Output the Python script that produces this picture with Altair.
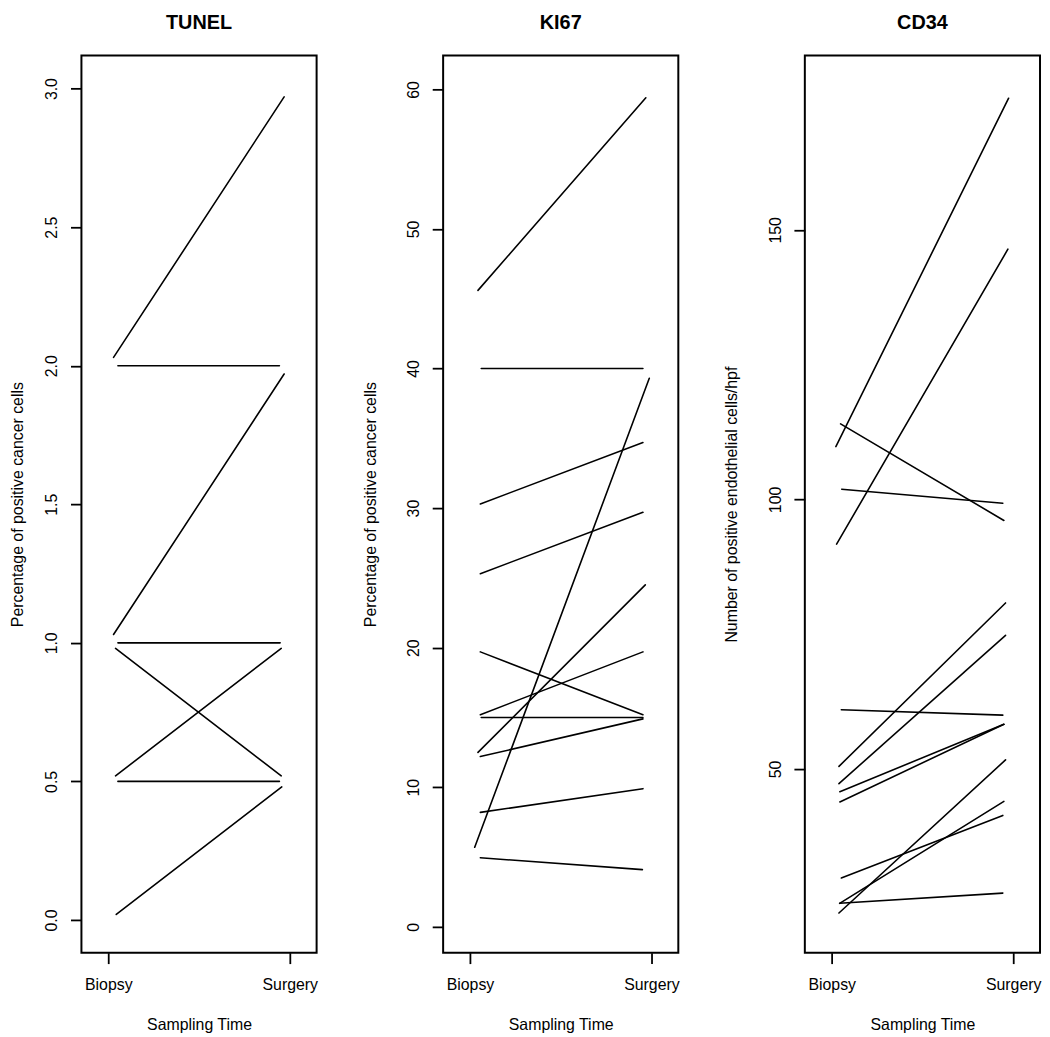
import altair as alt
import pandas as pd

# ---------------- data ----------------
time_labels = ["Biopsy", "Surgery"]
panel_titles = ["TUNEL", "KI67", "CD34"]
y_titles = [
    "Percentage of positive cancer cells",
    "Percentage of positive cancer cells",
    "Number of positive endothelial cells/hpf",
]
x_title = "Sampling Time"

# TUNEL
tunel_biopsy = [2.03, 2.00, 1.03, 1.00, 0.98, 0.52, 0.50, 0.02]
tunel_surgery = [2.97, 2.00, 1.97, 1.00, 0.52, 0.98, 0.50, 0.48]
tunel_xb = [1.029, 1.053, 1.029, 1.053, 1.040, 1.040, 1.053, 1.044]
tunel_xs = [1.969, 1.943, 1.969, 1.947, 1.953, 1.953, 1.943, 1.956]
tunel_ticks = [0.0, 0.5, 1.0, 1.5, 2.0, 2.5, 3.0]

# KI67
ki67_biopsy = [45.6, 40.0, 30.3, 5.7, 25.3, 19.7, 15.2, 15.0, 12.5, 12.2, 8.2, 4.95]
ki67_surgery = [59.4, 40.0, 34.7, 39.3, 29.7, 15.2, 19.7, 15.0, 24.5, 14.9, 9.9, 4.1]
ki67_xb = [1.044, 1.062, 1.057, 1.026, 1.057, 1.057, 1.057, 1.062, 1.044, 1.057, 1.057, 1.057]
ki67_xs = [1.969, 1.953, 1.953, 1.988, 1.953, 1.953, 1.953, 1.953, 1.966, 1.953, 1.953, 1.950]
ki67_ticks = [0, 10, 20, 30, 40, 50, 60]

# CD34
cd34_biopsy = [109.8, 91.7, 114.0, 101.9, 50.5, 47.3, 61.0, 45.8, 43.9, 29.8, 25.1, 23.3, 25.1]
cd34_surgery = [174.4, 146.4, 96.1, 99.3, 80.8, 74.8, 60.0, 58.3, 58.3, 41.4, 44.0, 51.7, 27.0]
cd34_xb = [1.023, 1.027, 1.049, 1.055, 1.040, 1.040, 1.053, 1.045, 1.045, 1.053, 1.044, 1.040, 1.044]
cd34_xs = [1.975, 1.971, 1.949, 1.943, 1.958, 1.958, 1.943, 1.949, 1.949, 1.943, 1.949, 1.958, 1.943]
cd34_ticks = [50, 100, 150]

# scale ranges (R-style padded limits)
x_domain = [0.852, 2.148]
tunel_domain = [-0.118, 3.119]
ki67_domain = [-1.85, 62.42]
cd34_domain = [15.95, 182.3]

FONT = "Liberation Sans"
label_expr = f"datum.value == 1 ? '{time_labels[0]}' : '{time_labels[1]}'"


def panel(title, ytitle, xb, yb, xs, ys, ydomain, yticks, yfmt, ytitle_pad):
    df = pd.DataFrame({"xb": xb, "yb": yb, "xs": xs, "ys": ys})
    return (
        alt.Chart(
            df,
            title=alt.Title(
                title,
                font=FONT,
                fontSize=20,
                fontWeight="bold",
                color="black",
                anchor="middle",
                frame="group",
                baseline="alphabetic",
                offset=7,
            ),
        )
        .mark_rule(color="black", strokeWidth=1.6, strokeCap="round")
        .encode(
            x=alt.X(
                "xb:Q",
                scale=alt.Scale(domain=x_domain, nice=False, zero=False),
                axis=alt.Axis(
                    values=[1, 2],
                    labelExpr=label_expr,
                    title=x_title,
                    grid=False,
                    domain=False,
                    tickSize=11,
                    tickWidth=1.8,
                    tickColor="black",
                    labelFontSize=16,
                    labelPadding=26,
                    labelBaseline="alphabetic",
                    labelAngle=0,
                    labelFlush=False,
                    labelOverlap=False,
                    titleFontSize=16,
                    titleFontWeight="normal",
                    titleBaseline="alphabetic",
                    titlePadding=37,
                    minExtent=40,
                    maxExtent=40,
                ),
            ),
            x2="xs:Q",
            y=alt.Y(
                "yb:Q",
                scale=alt.Scale(domain=ydomain, nice=False, zero=False),
                axis=alt.Axis(
                    values=yticks,
                    format=yfmt,
                    title=ytitle,
                    grid=False,
                    domain=False,
                    tickSize=11,
                    tickWidth=1.8,
                    tickColor="black",
                    labelFontSize=16,
                    labelAngle=270,
                    labelAlign="center",
                    labelBaseline="alphabetic",
                    labelPadding=14,
                    labelFlush=False,
                    labelOverlap=False,
                    titleFontSize=16,
                    titleFontWeight="normal",
                    titleAngle=270,
                    titleBaseline="alphabetic",
                    titlePadding=ytitle_pad,
                    minExtent=50,
                    maxExtent=50,
                ),
            ),
            y2="ys:Q",
        )
        .properties(width=237, height=904)
    )


p1 = panel(panel_titles[0], y_titles[0], tunel_xb, tunel_biopsy, tunel_xs, tunel_surgery,
           tunel_domain, tunel_ticks, ".1f", 9.4)
p2 = panel(panel_titles[1], y_titles[1], ki67_xb, ki67_biopsy, ki67_xs, ki67_surgery,
           ki67_domain, ki67_ticks, "d", 18.4)
p3 = panel(panel_titles[2], y_titles[2], cd34_xb, cd34_biopsy, cd34_xs, cd34_surgery,
           cd34_domain, cd34_ticks, "d", 18.4)

chart = (
    alt.hconcat(p1, p2, p3, spacing=127.5, bounds="flush", padding=0, background="white")
    .configure_view(stroke="black", strokeWidth=2)
    .configure_axis(labelFont=FONT, titleFont=FONT, labelColor="black",
                    titleColor="black", titleFontWeight="normal")
)

chart.save("out.html", embed_options={"renderer": "svg", "actions": False})
